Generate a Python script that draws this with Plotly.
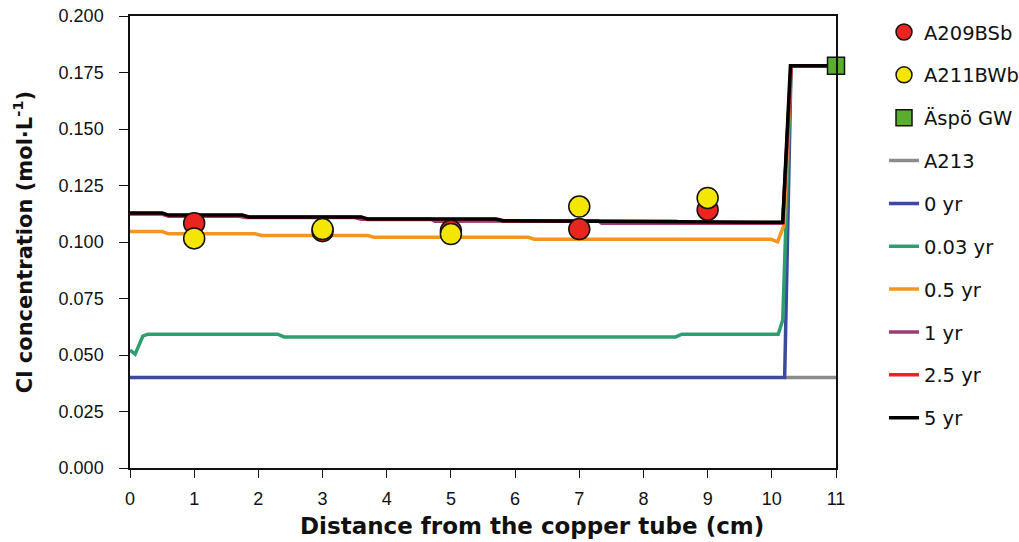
import plotly.graph_objects as go

# Measured points
pts_x = [1, 3, 5, 7, 9]
a209_y = [0.1083, 0.1048, 0.1050, 0.1057, 0.1143]
a211_y = [0.1016, 0.1057, 0.1035, 0.1157, 0.1195]
aspo_x = [11]
aspo_y = [0.178]

# A213
a213_x = [10.2, 11]
a213_y = [0.040, 0.040]

# Model profiles
yr0_x = [0, 10.2, 10.3, 11]
yr0_y = [0.040, 0.040, 0.178, 0.178]

yr003_x = [0, 0.08, 0.2, 0.28, 2.3, 2.4, 8.5, 8.6, 10.1, 10.17, 10.3, 11]
yr003_y = [0.0522, 0.0504, 0.0584, 0.0592, 0.0592, 0.0580, 0.0580, 0.0592, 0.0592, 0.0655, 0.178, 0.178]

yr05_x = [0, 0.5, 0.6, 1.95, 2.05, 3.7, 3.8, 6.2, 6.3, 9.99, 10.09, 10.19, 10.3, 11]
yr05_y = [0.1046, 0.1046, 0.1036, 0.1036, 0.1029, 0.1029, 0.1021, 0.1021, 0.1012, 0.1012, 0.1001, 0.1075, 0.178, 0.178]

yr1_x = [0, 0.5, 0.6, 1.7, 1.8, 3.5, 3.6, 4.7, 4.75, 5.75, 5.8, 7.3, 7.35, 10.17, 10.3, 11]
yr1_y = [0.1124, 0.1124, 0.1114, 0.1114, 0.1108, 0.1108, 0.1101, 0.1101, 0.1092, 0.1092, 0.1094, 0.1094, 0.1083, 0.1083, 0.178, 0.178]

yr25_x = [0, 0.5, 0.6, 1.75, 1.85, 3.6, 3.7, 5.75, 5.85, 8.5, 8.6, 10.17, 10.3, 11]
yr25_y = [0.1126, 0.1126, 0.1117, 0.1117, 0.1109, 0.1109, 0.1100, 0.1100, 0.1092, 0.1092, 0.1086, 0.1086, 0.178, 0.178]

yr5_x = [0, 0.5, 0.6, 1.75, 1.85, 3.6, 3.7, 5.7, 5.8, 10.17, 10.29, 11]
yr5_y = [0.1128, 0.1128, 0.1119, 0.1119, 0.1111, 0.1111, 0.1102, 0.1102, 0.1094, 0.1087, 0.178, 0.178]

xticks = list(range(0, 12))
yticks = [0.0, 0.025, 0.05, 0.075, 0.1, 0.125, 0.15, 0.175, 0.2]

fig = go.Figure()

lines = [
    ("A213", a213_x, a213_y, "#8c8c8c", 4),
    ("0 yr", yr0_x, yr0_y, "#3b4a9f", 5),
    ("0.03 yr", yr003_x, yr003_y, "#2f9e6f", 6),
    ("0.5 yr", yr05_x, yr05_y, "#f7941d", 7),
    ("1 yr", yr1_x, yr1_y, "#9b3b78", 8),
    ("2.5 yr", yr25_x, yr25_y, "#e8251f", 9),
    ("5 yr", yr5_x, yr5_y, "#000000", 10),
]
for name, xs, ys, col, rank in lines:
    fig.add_trace(go.Scatter(x=xs, y=ys, mode="lines", name=name,
                             line=dict(color=col, width=3.5),
                             legendrank=rank, legendgroup=name))

fig.add_trace(go.Scatter(x=pts_x, y=a209_y, mode="markers", name="A209BSb",
                         marker=dict(color="#e8251f", size=21, line=dict(color="#111", width=1.5)),
                         legendrank=1, legendgroup="A209BSb"))
fig.add_trace(go.Scatter(x=pts_x, y=a211_y, mode="markers", name="A211BWb",
                         marker=dict(color="#f5e600", size=21, line=dict(color="#111", width=1.5)),
                         legendrank=2, legendgroup="A211BWb"))
fig.add_trace(go.Scatter(x=aspo_x, y=aspo_y, mode="markers", name="Äspö GW",
                         marker=dict(color="#5aae2e", size=17, symbol="square", line=dict(color="#111", width=1.5)),
                         legendrank=3, legendgroup="Aspo", cliponaxis=False))

tick_font = "Liberation Sans, Arial, sans-serif"
title_font = "DejaVu Sans, sans-serif"
fig.update_layout(
    width=1019, height=542,
    margin=dict(l=130, r=183, t=16, b=74, autoexpand=False),
    plot_bgcolor="white", paper_bgcolor="white",
    font=dict(family=tick_font, color="#111", size=18),
    showlegend=True,
    legend=dict(x=1.068, y=0.538, xanchor="left", yanchor="middle",
                font=dict(size=19.5, family=title_font), tracegroupgap=14.5, itemwidth=30,
                bgcolor="rgba(0,0,0,0)"),
    xaxis=dict(range=[0, 11], tickvals=xticks, ticktext=[str(v) for v in xticks],
               showgrid=False, zeroline=False, showline=True, linecolor="#111", linewidth=1.5,
               mirror=True, ticks="outside", ticklen=8, tickcolor="#111", ticklabelstandoff=6,
               automargin=False),
    yaxis=dict(range=[0, 0.2], tickvals=yticks, ticktext=[f"{v:.3f}" for v in yticks],
               showgrid=False, zeroline=False, showline=True, linecolor="#111", linewidth=1.5,
               mirror=True, ticks="outside", ticklen=9, tickcolor="#111", ticklabelstandoff=12,
               automargin=False,
               title=dict(text="<b>Cl concentration (mol·L<sup>-1</sup>)</b>",
                          font=dict(size=21, family=title_font), standoff=20)),
    annotations=[dict(text="<b>Distance from the copper tube (cm)</b>",
                      xref="paper", yref="paper", x=0.569, y=0, xanchor="center", yanchor="middle",
                      yshift=-58, showarrow=False,
                      font=dict(size=23, family=title_font, color="#111"))],
)

fig.write_html("out.html")
